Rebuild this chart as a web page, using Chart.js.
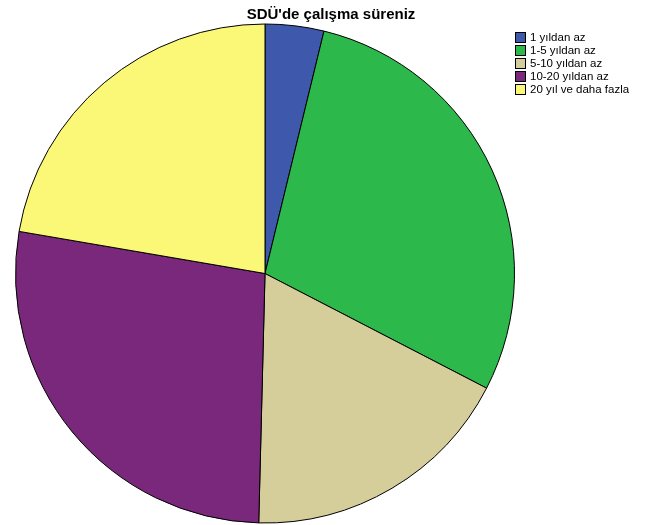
<!DOCTYPE html>
<html>
<head>
<meta charset="utf-8">
<script src="https://cdn.jsdelivr.net/npm/chart.js@4/dist/chart.umd.min.js"></script>
<style>
  body { margin: 0; background: #fff; }
</style>
</head>
<body>
<canvas id="pieChart" width="653" height="525"></canvas>
<script>
const chartTitle = "SDÜ'de çalışma süreniz";
const categories = ["1 yıldan az", "1-5 yıldan az", "5-10 yıldan az", "10-20 yıldan az", "20 yıl ve daha fazla"];
const percents = [3.8, 28.8, 17.8, 27.3, 22.3];
const sliceColors = ["#3E58AC", "#2DB84B", "#D5CE9A", "#7A287B", "#FBF877"];

// title + legend drawn by hand, SPSS style
const spssDecor = {
  id: "spssDecor",
  afterDraw(chart) {
    const ctx = chart.ctx;
    ctx.save();
    ctx.fillStyle = "#000";
    ctx.font = "bold 15px 'Liberation Sans', Arial, sans-serif";
    ctx.textAlign = "center";
    ctx.textBaseline = "alphabetic";
    ctx.fillText(chartTitle, 331, 19);

    ctx.font = "11.5px 'Liberation Sans', Arial, sans-serif";
    ctx.textAlign = "left";
    ctx.textBaseline = "middle";
    categories.forEach((cat, i) => {
      const y = 32 + i * 13;
      ctx.fillStyle = sliceColors[i];
      ctx.fillRect(515.5, y + 0.5, 10, 10);
      ctx.strokeStyle = "#000";
      ctx.lineWidth = 1;
      ctx.strokeRect(515.5, y + 0.5, 10, 10);
      ctx.fillStyle = "#000";
      ctx.fillText(cat, 530, y + 6);
    });
    ctx.restore();
  },
};

const pieCtx = document.getElementById("pieChart").getContext("2d");
const pieChart = new Chart(pieCtx, {
  type: "pie",
  data: {
    labels: categories,
    datasets: [
      {
        data: percents,
        backgroundColor: sliceColors,
        borderColor: "#000",
        borderWidth: 1,
      },
    ],
  },
  options: {
    responsive: false,
    animation: false,
    layout: {
      padding: { left: 15, right: 138, top: 23, bottom: 1 },
    },
    plugins: {
      legend: { display: false },
      title: { display: false },
      tooltip: { enabled: false },
    },
  },
  plugins: [spssDecor],
});
</script>
</body>
</html>
